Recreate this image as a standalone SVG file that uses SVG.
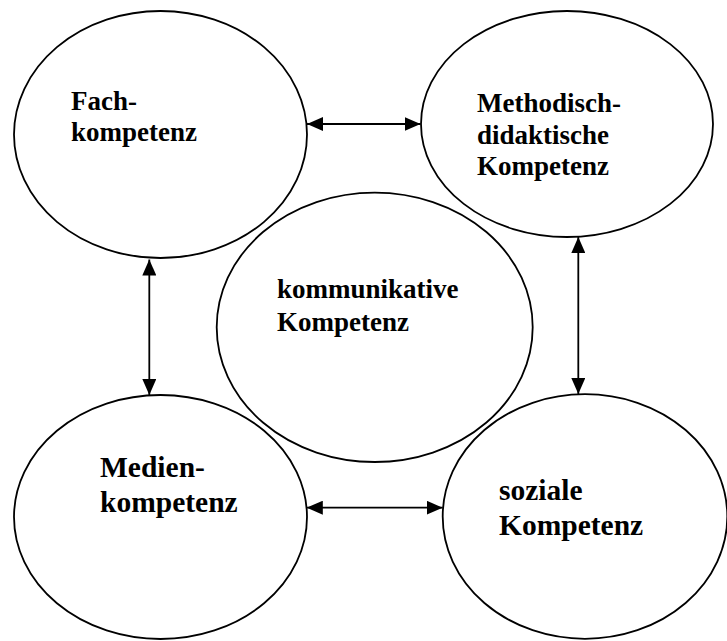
<svg xmlns="http://www.w3.org/2000/svg" width="727" height="641" viewBox="0 0 727 641">
  <style>
    .node ellipse { fill: none; stroke: #000; stroke-width: 1.8; }
    .lbl { font-family: "Liberation Serif", "Times New Roman", serif; font-weight: bold; fill: #000; }
    .s20 { font-size: 27px; }
    .s22 { font-size: 29.5px; }
    .conn line { stroke: #000; stroke-width: 1.8; marker-start: url(#ah); marker-end: url(#ah); }
  </style>
  <defs>
    <marker id="ah" markerUnits="userSpaceOnUse" markerWidth="16" markerHeight="14" refX="16" refY="7" orient="auto-start-reverse">
      <path d="M0,0 L16,7 L0,14 z" fill="#000"/>
    </marker>
  </defs>
  <rect width="727" height="641" fill="#fff"/>

  <g id="fach" class="node">
    <ellipse cx="160.5" cy="134.5" rx="146.5" ry="123.5"/>
    <text class="lbl s20" x="71" y="110">Fach-</text>
    <text class="lbl s20" x="71" y="141">kompetenz</text>
  </g>

  <g id="methodisch" class="node">
    <ellipse cx="567" cy="124" rx="146" ry="113"/>
    <text class="lbl s20" x="477" y="112">Methodisch-</text>
    <text class="lbl s20" x="477" y="143.5">didaktische</text>
    <text class="lbl s20" x="477" y="175">Kompetenz</text>
  </g>

  <g id="kommunikativ" class="node">
    <ellipse cx="374.7" cy="327.3" rx="158" ry="134.7"/>
    <text class="lbl s20" x="277" y="298">kommunikative</text>
    <text class="lbl s20" x="277" y="331">Kompetenz</text>
  </g>

  <g id="medien" class="node">
    <ellipse cx="160.5" cy="517" rx="146.5" ry="122"/>
    <text class="lbl s22" x="100" y="477">Medien-</text>
    <text class="lbl s22" x="100" y="512">kompetenz</text>
  </g>

  <g id="sozial" class="node">
    <ellipse cx="585" cy="516.5" rx="142.3" ry="122.3"/>
    <text class="lbl s22" x="499" y="500">soziale</text>
    <text class="lbl s22" x="499" y="535">Kompetenz</text>
  </g>

  <g id="connectors" class="conn">
    <line x1="307" y1="124" x2="420.5" y2="124"/>
    <line x1="149.3" y1="259.5" x2="149.3" y2="395"/>
    <line x1="578.3" y1="237" x2="578.3" y2="394"/>
    <line x1="306.8" y1="507.7" x2="442.7" y2="507.7"/>
  </g>
</svg>
